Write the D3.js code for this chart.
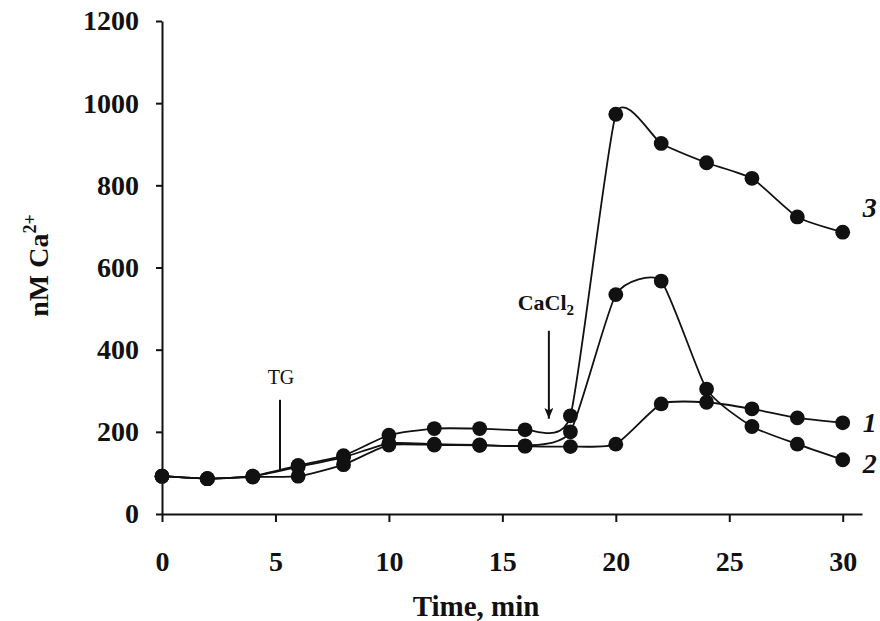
<!DOCTYPE html>
<html>
<head>
<meta charset="utf-8">
<script src="https://cdn.jsdelivr.net/npm/d3@7"></script>
<style>
  body { margin: 0; background: #fff; }
  text { font-family: "Liberation Serif", "Times New Roman", serif; fill: #111; }
</style>
</head>
<body>
<div id="plot"></div>
<script>
// Data
const time = [0, 2, 4, 6, 8, 10, 12, 14, 16, 18, 20, 22, 24, 26, 28, 30];
const series1 = [92, 86, 90, 92, 120, 168, 168, 167, 165, 164, 170, 268, 272, 256, 234, 222];
const series2 = [92, 86, 92, 115, 138, 172, 170, 168, 166, 200, 534, 567, 304, 213, 170, 132];
const series3 = [92, 86, 92, 118, 142, 192, 208, 208, 205, 239, 973, 902, 855, 817, 723, 686];
const seriesNames = ["1", "2", "3"];
const xTicks = [0, 5, 10, 15, 20, 25, 30];
const yTicks = [0, 200, 400, 600, 800, 1000, 1200];

const margin = { top: 21, right: 18, bottom: 107, left: 162 },
      width = 880 - margin.left - margin.right,
      height = 621 - margin.top - margin.bottom;

const svg = d3.select("#plot")
  .append("svg")
    .attr("width", width + margin.left + margin.right)
    .attr("height", height + margin.top + margin.bottom)
  .append("g")
    .attr("transform", `translate(${margin.left},${margin.top})`);

// Scales
const x = d3.scaleLinear().domain([0, 30.85]).range([0, width]);
const y = d3.scaleLinear().domain([0, 1200]).range([height, 0]);

// X axis
const gx = svg.append("g")
  .attr("transform", `translate(0,${height})`)
  .call(d3.axisBottom(x).tickValues(xTicks).tickSize(8).tickSizeOuter(0).tickPadding(29));
gx.selectAll("text")
  .style("font-size", "28px")
  .style("font-weight", "bold");

// Y axis
const gy = svg.append("g")
  .call(d3.axisLeft(y).tickValues(yTicks).tickFormat(d3.format("d"))
    .tickSize(6).tickSizeOuter(0).tickPadding(17));
gy.selectAll("text")
  .style("font-size", "28px")
  .style("font-weight", "bold");

svg.selectAll(".domain, .tick line")
  .attr("stroke", "#111")
  .attr("stroke-width", 2);

// Axis titles
svg.append("text")
  .attr("x", 314)
  .attr("y", height + 102)
  .attr("text-anchor", "middle")
  .style("font-size", "29px")
  .style("font-weight", "bold")
  .text("Time, min");

const yTitle = svg.append("text")
  .attr("transform", `translate(-114,${height / 2 - 2}) rotate(-90)`)
  .attr("text-anchor", "middle")
  .style("font-size", "28px")
  .style("font-weight", "bold");
yTitle.append("tspan").text("nM Ca");
yTitle.append("tspan").attr("dy", -12).style("font-size", "18px").text("2+");

// Lines and markers
const allSeries = [series1, series2, series3].map((vals, i) => ({
  name: seriesNames[i],
  values: time.map((t, j) => ({ t: t, v: vals[j] }))
}));

// smoothed like the spreadsheet lines, with a bit of tension to limit overshoot
const line = d3.line()
  .x(d => x(d.t))
  .y(d => y(d.v))
  .curve(d3.curveCardinal.tension(0.45));

svg.selectAll(".series")
  .data(allSeries)
  .join("path")
    .attr("class", "series")
    .attr("d", d => line(d.values))
    .attr("fill", "none")
    .attr("stroke", "#111")
    .attr("stroke-width", 1.8);

svg.selectAll(".dots")
  .data(allSeries)
  .join("g")
    .attr("class", "dots")
  .selectAll("circle")
  .data(d => d.values)
  .join("circle")
    .attr("cx", d => x(d.t))
    .attr("cy", d => y(d.v))
    .attr("r", 7.4)
    .attr("fill", "#111");

// Series labels
const labelOffset = { "1": 9, "2": 13, "3": -15 };
svg.selectAll(".series-label")
  .data(allSeries)
  .join("text")
    .attr("class", "series-label")
    .attr("x", d => x(30) + 27)
    .attr("y", d => y(d.values[d.values.length - 1].v) + labelOffset[d.name])
    .attr("text-anchor", "middle")
    .style("font-size", "28px")
    .style("font-style", "italic")
    .style("font-weight", "bold")
    .text(d => d.name);

// Annotation arrows
svg.append("defs").append("marker")
  .attr("id", "head")
  .attr("viewBox", "0 0 12 10")
  .attr("refX", 12).attr("refY", 5)
  .attr("markerWidth", 12).attr("markerHeight", 9)
  .attr("markerUnits", "userSpaceOnUse")
  .attr("orient", "auto")
  .append("path")
    .attr("d", "M0,0 L12,5 L0,10 L3,5 Z")
    .attr("fill", "#111");

// TG
svg.append("line")
  .attr("x1", x(5.2)).attr("x2", x(5.2))
  .attr("y1", y(278)).attr("y2", y(107))
  .attr("stroke", "#111").attr("stroke-width", 2);
svg.append("text")
  .attr("x", x(5.2) + 1)
  .attr("y", y(278) - 16)
  .attr("text-anchor", "middle")
  .style("font-size", "20px")
  .text("TG");

// CaCl2
svg.append("line")
  .attr("x1", x(17.05)).attr("x2", x(17.05))
  .attr("y1", y(446)).attr("y2", y(232))
  .attr("stroke", "#111").attr("stroke-width", 2)
  .attr("marker-end", "url(#head)");
const cacl = svg.append("text")
  .attr("x", x(17.05) - 3)
  .attr("y", y(446) - 21)
  .attr("text-anchor", "middle")
  .style("font-size", "22px")
  .style("font-weight", "bold");
cacl.append("tspan").text("CaCl");
cacl.append("tspan").attr("dy", 5).style("font-size", "15px").text("2");
</script>
</body>
</html>
